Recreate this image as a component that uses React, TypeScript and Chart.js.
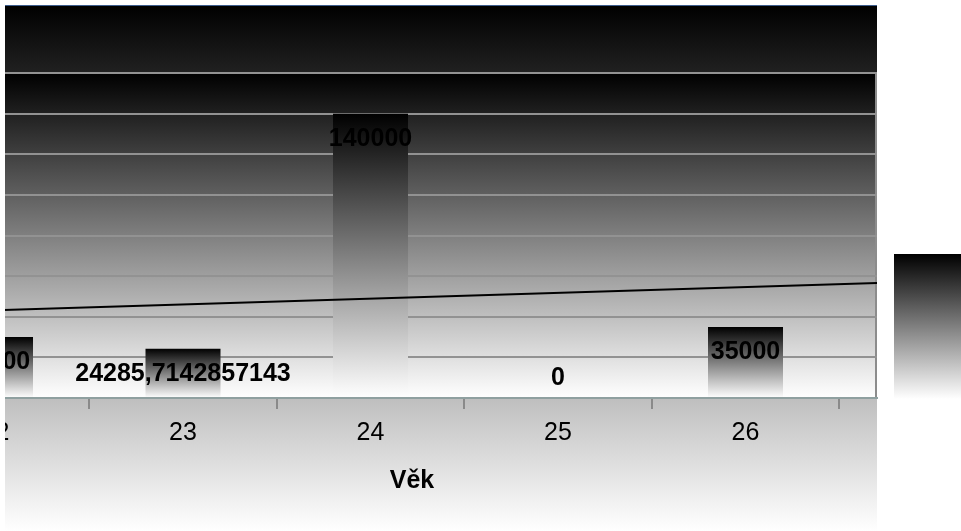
import React, { useEffect, useRef } from "react";
import { Chart, registerables } from "chart.js";

Chart.register(...registerables);

// ---- data ----
const ages = [22, 23, 24, 25, 26];
const avgIncome = [30000, 24285.7142857143, 140000, 0, 35000];
const trendAges = [22, 27];
const trendValues = [43200, 57500];
const yMin = 0;
const yMax = 160000;
const yStep = 20000;
const xMin = 21.7413;
const xMax = 26.7013;
const xTitle = "Věk";

const FONT = '"Liberation Sans", Arial, sans-serif';

function barGradient(c: any) {
  const chart = c.chart;
  const area = chart.chartArea;
  const ys = chart.scales && chart.scales.y;
  if (!area || !ys || !c.raw) return "#000";
  const top = ys.getPixelForValue(c.raw.y);
  const bottom = ys.getPixelForValue(0);
  if (bottom - top < 1) return "#000";
  const g = chart.ctx.createLinearGradient(0, top, 0, bottom);
  g.addColorStop(0, "#000000");
  g.addColorStop(1, "#ffffff");
  return g;
}

const backgroundPlugin = {
  id: "bgPlugin",
  beforeDraw(chart: any) {
    const { ctx, chartArea: a, width, height } = chart;
    ctx.save();
    ctx.fillStyle = "#ffffff";
    ctx.fillRect(0, 0, width, height);
    const top = 5;
    const g = ctx.createLinearGradient(0, top, 0, height);
    g.addColorStop(0, "#000000");
    g.addColorStop(1, "#ffffff");
    ctx.fillStyle = g;
    ctx.fillRect(0, top, a.right, height - top);
    ctx.fillStyle = "#3d5d8c";
    ctx.fillRect(0, top, a.right, 1);
    const w = ctx.createLinearGradient(0, a.top, 0, a.bottom);
    w.addColorStop(0, "#000000");
    w.addColorStop(1, "#ffffff");
    ctx.fillStyle = w;
    ctx.fillRect(a.left, a.top, a.right - a.left, a.bottom - a.top);
    ctx.fillStyle = "#8c8c8c";
    ctx.fillRect(a.right - 2, a.top, 2, a.bottom - a.top);
    // legend swatch
    const lx = a.right + 17;
    const lh = 145;
    const ly = a.bottom - lh + 1;
    const lg = ctx.createLinearGradient(0, ly, 0, ly + lh);
    lg.addColorStop(0, "#000000");
    lg.addColorStop(1, "#ffffff");
    ctx.fillStyle = lg;
    ctx.fillRect(lx, ly, 80, lh);
    ctx.restore();
  },
};

const labelPlugin = {
  id: "barLabels",
  afterDatasetsDraw(chart: any) {
    const { ctx } = chart;
    chart.data.datasets.forEach((ds: any, di: number) => {
      if (ds.type !== "bar") return;
      const meta = chart.getDatasetMeta(di);
      ctx.save();
      ctx.font = `bold 25px ${FONT}`;
      ctx.fillStyle = "#000";
      ctx.textAlign = "center";
      ctx.textBaseline = "middle";
      meta.data.forEach((el: any, i: number) => {
        const v = ds.data[i].y;
        const txt = String(v).replace(".", ",");
        const y = Math.min(el.y + 25, el.base - 20);
        ctx.fillText(txt, el.x, y);
      });
      ctx.restore();
    });
  },
};

export default function App() {
  const ref = useRef<HTMLCanvasElement | null>(null);
  useEffect(() => {
    if (!ref.current) return;
    const chart = new Chart(ref.current, {
      type: "bar",
      data: {
        datasets: [
          {
            type: "line",
            label: "Trend",
            data: trendAges.map((x, i) => ({ x, y: trendValues[i] })),
            borderColor: "#000",
            borderWidth: 2,
            pointRadius: 0,
            fill: false,
          } as any,
          {
            type: "bar",
            label: "Příjem",
            data: ages.map((x, i) => ({ x, y: avgIncome[i] })),
            backgroundColor: barGradient,
            borderWidth: 0,
            categoryPercentage: 0.8,
            barPercentage: 0.5,
          } as any,
        ],
      },
      options: {
        animation: false,
        responsive: false,
        maintainAspectRatio: false,
        layout: { padding: { left: 67, right: 203, top: 73, bottom: 0 } },
        plugins: {
          legend: { display: false },
          tooltip: { enabled: false },
        },
        scales: {
          x: {
            type: "linear",
            min: xMin,
            max: xMax,
            offset: false,
            afterBuildTicks: (s: any) => {
              s.ticks = ages.map((v) => ({ value: v }));
            },
            afterFit: (s: any) => {
              s.height = 133;
            },
            ticks: {
              color: "#000",
              font: { size: 25, family: FONT },
              padding: 9,
              maxRotation: 0,
              autoSkip: false,
              callback: (v: any) => String(v),
            },
            grid: {
              drawOnChartArea: false,
              offset: true,
              tickLength: 11,
              color: "#8a8a8a",
              lineWidth: 2,
            },
            border: { display: true, color: "#8fa0a0", width: 2 },
            title: {
              display: true,
              text: xTitle,
              color: "#000",
              font: { size: 25, weight: "bold", family: FONT },
              padding: { top: 0, bottom: 35 },
            },
          },
          y: {
            min: yMin,
            max: yMax,
            ticks: { display: false, stepSize: yStep },
            grid: { color: "#929292", lineWidth: 2, drawTicks: false },
            border: { display: false },
          },
        },
      } as any,
      plugins: [backgroundPlugin, labelPlugin],
    });
    return () => chart.destroy();
  }, []);
  return (
    <div
      style={{
        position: "fixed",
        left: 5,
        top: 5,
        width: 956,
        height: 526,
        overflow: "hidden",
        background: "#fff",
      }}
    >
      <canvas
        ref={ref}
        width={1200}
        height={531}
        style={{ position: "absolute", left: -125, top: -5, width: 1200, height: 531 }}
      />
    </div>
  );
}
